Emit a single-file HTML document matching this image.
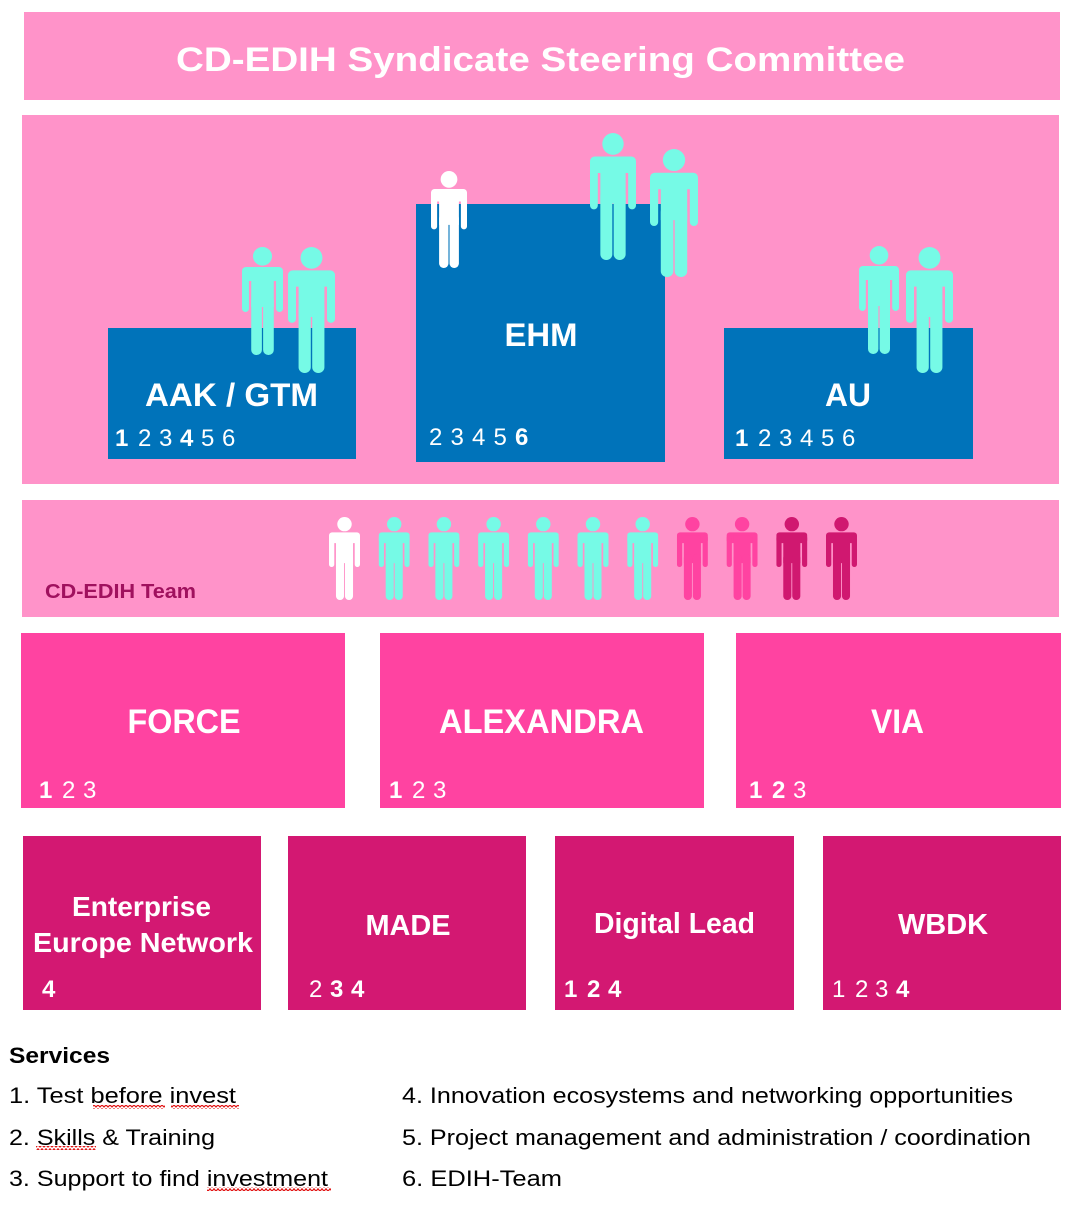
<!DOCTYPE html>
<html><head><meta charset="utf-8"><style>
html,body{margin:0;padding:0;background:#fff;}
svg{display:block;}
text{font-family:"Liberation Sans",Arial,sans-serif;}
</style></head><body>
<svg width="1080" height="1214" viewBox="0 0 1080 1214" xmlns="http://www.w3.org/2000/svg">
<defs>
<symbol id="fig" viewBox="0 0 40 108" preserveAspectRatio="none">
<circle cx="20" cy="9.3" r="9.3"/>
<rect x="0" y="20" width="40" height="14" rx="4"/>
<rect x="0" y="24" width="6.8" height="41" rx="3.4"/>
<rect x="33.2" y="24" width="6.8" height="41" rx="3.4"/>
<rect x="9" y="24" width="22" height="36"/>
<rect x="9" y="48" width="10.4" height="60" rx="5"/>
<rect x="20.6" y="48" width="10.4" height="60" rx="5"/>
</symbol>
<pattern id="wavy" patternUnits="userSpaceOnUse" width="4" height="4">
<path d="M0,3.2 L2,0.8 L4,3.2" fill="none" stroke="#e01010" stroke-width="1.2"/>
</pattern>
</defs>

<!-- Top banner -->
<rect x="24" y="12" width="1036" height="88" fill="#FF93C9"/>
<text x="540.5" y="71" font-size="34" font-weight="bold" fill="#fff" text-anchor="middle" textLength="729" lengthAdjust="spacingAndGlyphs">CD-EDIH Syndicate Steering Committee</text>

<!-- Big pink area -->
<rect x="22" y="115" width="1037" height="369" fill="#FF93C9"/>

<!-- Blue boxes -->
<rect x="108" y="328" width="248" height="131" fill="#0073BA"/>
<rect x="416" y="204" width="249" height="258" fill="#0073BA"/>
<rect x="724" y="328" width="249" height="131" fill="#0073BA"/>

<!-- Figures on boxes -->
<g fill="#76FAE6">
<use href="#fig" x="242" y="247" width="41" height="108"/>
<use href="#fig" x="288" y="247" width="47" height="126"/>
<use href="#fig" x="590" y="133" width="46" height="127"/>
<use href="#fig" x="650" y="149" width="48" height="128"/>
<use href="#fig" x="859" y="246" width="40" height="108"/>
<use href="#fig" x="906" y="247" width="47" height="126"/>
</g>
<use href="#fig" x="431" y="171" width="36" height="97" fill="#fff"/>

<g fill="#fff" font-weight="bold">
<text x="231.5" y="406" font-size="32" text-anchor="middle" textLength="173" lengthAdjust="spacingAndGlyphs">AAK / GTM</text>
<text x="541" y="346" font-size="32" text-anchor="middle" textLength="73" lengthAdjust="spacingAndGlyphs">EHM</text>
<text x="848" y="406" font-size="32" text-anchor="middle" textLength="46" lengthAdjust="spacingAndGlyphs">AU</text>
</g>

<g fill="#fff" font-size="24">
<text x="115" y="446" font-weight="bold">1</text>
<text x="138" y="446">2</text>
<text x="159" y="446">3</text>
<text x="180" y="446" font-weight="bold">4</text>
<text x="201" y="446">5</text>
<text x="222" y="446">6</text>
<text x="429" y="445">2</text>
<text x="450.5" y="445">3</text>
<text x="472" y="445">4</text>
<text x="493.5" y="445">5</text>
<text x="515" y="445" font-weight="bold">6</text>
<text x="735" y="446" font-weight="bold">1</text>
<text x="758" y="446">2</text>
<text x="779" y="446">3</text>
<text x="800" y="446">4</text>
<text x="821" y="446">5</text>
<text x="842" y="446">6</text>
</g>

<!-- Team band -->
<rect x="22" y="500" width="1037" height="117" fill="#FF93C9"/>
<text x="45" y="598" font-size="20" font-weight="bold" fill="#A0115E" textLength="151" lengthAdjust="spacingAndGlyphs">CD-EDIH Team</text>
<use href="#fig" x="329" y="517" width="31" height="83" fill="#fff"/>
<g fill="#76FAE6">
<use href="#fig" x="378.7" y="517" width="31" height="83"/>
<use href="#fig" x="428.4" y="517" width="31" height="83"/>
<use href="#fig" x="478.1" y="517" width="31" height="83"/>
<use href="#fig" x="527.8" y="517" width="31" height="83"/>
<use href="#fig" x="577.5" y="517" width="31" height="83"/>
<use href="#fig" x="627.2" y="517" width="31" height="83"/>
</g>
<g fill="#FF43A1">
<use href="#fig" x="676.9" y="517" width="31" height="83"/>
<use href="#fig" x="726.6" y="517" width="31" height="83"/>
</g>
<g fill="#D01870">
<use href="#fig" x="776.3" y="517" width="31" height="83"/>
<use href="#fig" x="826" y="517" width="31" height="83"/>
</g>

<!-- Hot pink row -->
<rect x="21" y="633" width="324" height="175" fill="#FF43A1"/>
<rect x="380" y="633" width="324" height="175" fill="#FF43A1"/>
<rect x="736" y="633" width="325" height="175" fill="#FF43A1"/>
<g fill="#fff" font-weight="bold" font-size="34" text-anchor="middle">
<text x="184" y="733" textLength="113" lengthAdjust="spacingAndGlyphs">FORCE</text>
<text x="541.5" y="733" textLength="205" lengthAdjust="spacingAndGlyphs">ALEXANDRA</text>
<text x="897.5" y="733" textLength="53" lengthAdjust="spacingAndGlyphs">VIA</text>
</g>
<g fill="#fff" font-size="24">
<text x="39" y="798" font-weight="bold">1</text>
<text x="62" y="798">2</text>
<text x="83" y="798">3</text>
<text x="389" y="798" font-weight="bold">1</text>
<text x="412" y="798">2</text>
<text x="433" y="798">3</text>
<text x="749" y="798" font-weight="bold">1</text>
<text x="772" y="798" font-weight="bold">2</text>
<text x="793" y="798">3</text>
</g>

<!-- Magenta row -->
<rect x="23" y="836" width="238" height="174" fill="#D31872"/>
<rect x="288" y="836" width="238" height="174" fill="#D31872"/>
<rect x="555" y="836" width="239" height="174" fill="#D31872"/>
<rect x="823" y="836" width="238" height="174" fill="#D31872"/>
<g fill="#fff" font-weight="bold" text-anchor="middle">
<text x="141.5" y="916" font-size="28" textLength="139" lengthAdjust="spacingAndGlyphs">Enterprise</text>
<text x="143" y="952" font-size="28" textLength="220" lengthAdjust="spacingAndGlyphs">Europe Network</text>
<text x="408" y="935" font-size="29" textLength="85" lengthAdjust="spacingAndGlyphs">MADE</text>
<text x="674.5" y="933" font-size="29" textLength="161" lengthAdjust="spacingAndGlyphs">Digital Lead</text>
<text x="943" y="934" font-size="29" textLength="90" lengthAdjust="spacingAndGlyphs">WBDK</text>
</g>
<g fill="#fff" font-size="24">
<text x="42" y="997" font-weight="bold">4</text>
<text x="309" y="997">2</text>
<text x="330" y="997" font-weight="bold">3</text>
<text x="351" y="997" font-weight="bold">4</text>
<text x="564" y="997" font-weight="bold">1</text>
<text x="587" y="997" font-weight="bold">2</text>
<text x="608" y="997" font-weight="bold">4</text>
<text x="832" y="997">1</text>
<text x="855" y="997">2</text>
<text x="875" y="997">3</text>
<text x="896" y="997" font-weight="bold">4</text>
</g>

<!-- Services -->
<g fill="#000" font-size="22">
<text x="9" y="1063" font-weight="bold" textLength="101" lengthAdjust="spacingAndGlyphs">Services</text>
<text x="9" y="1103" textLength="227" lengthAdjust="spacingAndGlyphs">1. Test before invest</text>
<text x="9" y="1145" textLength="206" lengthAdjust="spacingAndGlyphs">2. Skills &amp; Training</text>
<text x="9" y="1186" textLength="319" lengthAdjust="spacingAndGlyphs">3. Support to find investment</text>
<text x="402" y="1103" textLength="611" lengthAdjust="spacingAndGlyphs">4. Innovation ecosystems and networking opportunities</text>
<text x="402" y="1145" textLength="629" lengthAdjust="spacingAndGlyphs">5. Project management and administration / coordination</text>
<text x="402" y="1186" textLength="160" lengthAdjust="spacingAndGlyphs">6. EDIH-Team</text>
</g>
<rect x="93" y="1105" width="72" height="4" fill="url(#wavy)"/>
<rect x="171" y="1105" width="68" height="4" fill="url(#wavy)"/>
<rect x="36" y="1146" width="60" height="4" fill="url(#wavy)"/>
<rect x="207" y="1187" width="124" height="4" fill="url(#wavy)"/>
</svg>
</body></html>
